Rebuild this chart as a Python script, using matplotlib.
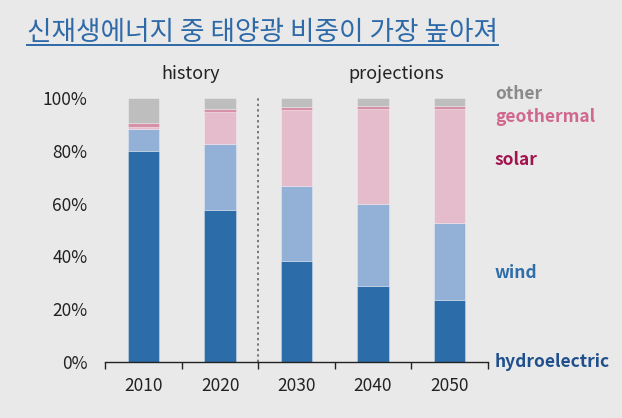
import matplotlib
matplotlib.use("Agg")
import matplotlib.pyplot as plt
import numpy as np

plt.rcParams['font.family'] = ['Noto Sans CJK KR', 'DejaVu Sans']

years = ["2010", "2020", "2030", "2040", "2050"]
hydro = [80.0, 57.7, 38.4, 28.9, 23.4]
wind = [8.4, 24.9, 28.3, 31.1, 29.1]
solar = [0.7, 12.0, 28.8, 35.7, 43.4]
geothermal = [1.5, 1.2, 1.2, 1.3, 1.2]
other = [9.4, 4.2, 3.3, 3.0, 2.9]

series = [
    ("hydroelectric", hydro, "#2b6ca9", "#1f4f8c", 362),
    ("wind", wind, "#93b0d6", "#2f6dab", 273),
    ("solar", solar, "#e5bccb", "#a3134f", 160),
    ("geothermal", geothermal, "#d690a7", "#d0688e", 117),
    ("other", other, "#bebebe", "#8a8a8a", 94),
]

bg = "#e9e9e9"
W, H = 622, 418
fig = plt.figure(figsize=(W / 100, H / 100), dpi=100, facecolor=bg)
ax = fig.add_axes([105.5 / W, 1 - 362 / H, (487.5 - 105.5) / W, (362 - 98) / H])
ax.set_facecolor(bg)

x = np.arange(len(years))
bottom = np.zeros(len(years))
for name, vals, color, tcolor, ty in series:
    vals = np.array(vals)
    ax.bar(x, vals, width=0.41, bottom=bottom, color=color,
           edgecolor=(1, 1, 1, 0.35), linewidth=0.6)
    bottom += vals
    fig.text(495 / W, 1 - ty / H, name, color=tcolor, fontsize=12.5,
             ha="left", va="center", fontweight="semibold")

ax.set_xlim(-0.5, len(years) - 0.5)
ax.set_ylim(0, 100)
ax.set_yticks([0, 20, 40, 60, 80, 100])
ax.set_yticklabels([f"{v}%" for v in [0, 20, 40, 60, 80, 100]])
ax.set_xticks(x)
ax.set_xticklabels(years)
ax.set_xticks(np.arange(-0.5, len(years), 1.0), minor=True)
ax.tick_params(axis="x", which="major", length=0, pad=11, labelsize=12.5, colors="#222222")
ax.tick_params(axis="x", which="minor", length=5, width=1, color="#222222", direction="out")
ax.tick_params(axis="y", length=0, pad=13, labelsize=12.5, colors="#222222")
for s in ["left", "right", "top"]:
    ax.spines[s].set_visible(False)
ax.spines["bottom"].set_color("#222222")
ax.spines["bottom"].set_linewidth(1)

# separator between history and projections
ax.plot([1.5, 1.5], [0, 100], color="#777777", linestyle=(0, (1.2, 1.6)), linewidth=1.4)

fig.text(191 / W, 1 - 74 / H, "history", ha="center", va="center", fontsize=13, color="#222222")
fig.text(396 / W, 1 - 74 / H, "projections", ha="center", va="center", fontsize=13, color="#222222")

title_color = "#2e6aa8"
t = fig.text(27 / W, 1 - 32 / H, "신재생에너지 중 태양광 비중이 가장 높아져",
             ha="left", va="center", fontsize=19.2, color=title_color)
fig.canvas.draw()
bb = t.get_window_extent(renderer=fig.canvas.get_renderer())
uy = (H - 44.5) / H
fig.add_artist(plt.Line2D([bb.x0 / W, bb.x1 / W], [uy, uy], color=title_color,
                          linewidth=1.4, transform=fig.transFigure))

fig.savefig("out.png", dpi=100, facecolor=bg)
